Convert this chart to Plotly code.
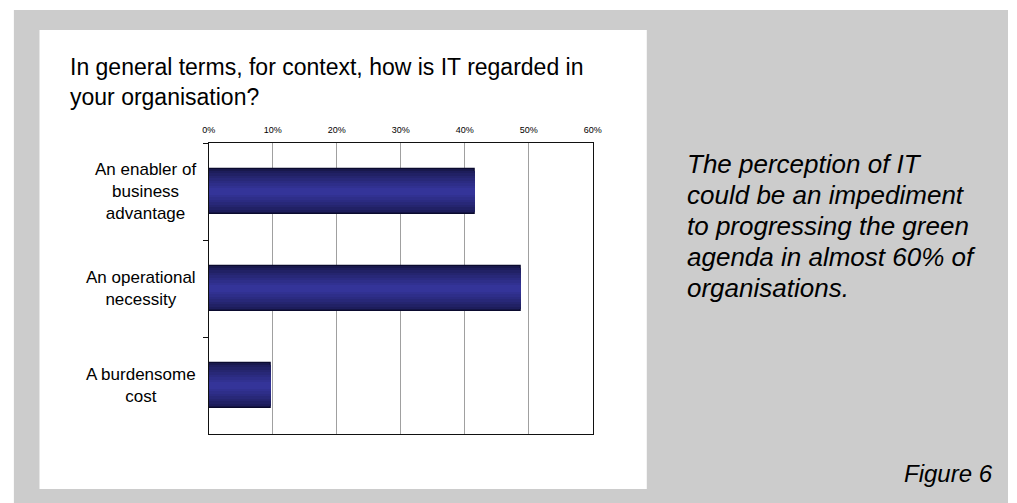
import plotly.graph_objects as go

# Survey responses: how IT is regarded in the organisation
categories = [
    "An enabler of<br>business<br>advantage",
    "An operational<br>necessity",
    "A burdensome<br>cost",
]
shares = [0.415, 0.488, 0.097]
tick_values = [0, 0.1, 0.2, 0.3, 0.4, 0.5, 0.6]
tick_labels = ["0%", "10%", "20%", "30%", "40%", "50%", "60%"]

title_text = "In general terms, for context, how is IT regarded in<br>your organisation?"
note_lines = [
    "The perception of IT",
    "could be an impediment",
    "to progressing the green",
    "agenda in almost 60% of",
    "organisations.",
]
figure_label = "Figure 6"

W, H = 1017, 503
FONT = "Arial, Liberation Sans, Helvetica, sans-serif"


def px_x(x):
    return x / W


def px_y(y):
    return 1 - y / H


def lerp_color(c1, c2, t):
    a = [int(c1[i:i + 2], 16) for i in (1, 3, 5)]
    b = [int(c2[i:i + 2], 16) for i in (1, 3, 5)]
    return "#" + "".join(f"{round(a[k] + (b[k] - a[k]) * t):02x}" for k in range(3))


fig = go.Figure()

# Bars with a vertical shading: stacked overlays that narrow towards the centre
bar_width = 0.474
layers = 9
for i in range(layers):
    t = i / (layers - 1)
    frac = 1.0 - 0.85 * t
    color = lerp_color("#18184c", "#343499", t ** 0.8)
    fig.add_trace(go.Bar(
        x=shares,
        y=categories,
        orientation="h",
        width=bar_width * frac,
        marker=dict(
            color=color,
            line=dict(color="#0a0a2e" if i == 0 else color, width=1.2 if i == 0 else 0),
        ),
        hoverinfo="skip",
        showlegend=False,
    ))

x0, x1 = 205, 595
y0, y1 = 143, 434

fig.update_layout(
    width=W,
    height=H,
    margin=dict(l=0, r=0, t=0, b=0),
    paper_bgcolor="white",
    plot_bgcolor="white",
    barmode="overlay",
    bargap=0,
    font=dict(family=FONT, color="black"),
    xaxis=dict(
        domain=[px_x(x0), px_x(x1)],
        range=[0, 0.6],
        side="top",
        tickvals=tick_values,
        ticktext=tick_labels,
        tickfont=dict(size=9, family=FONT),
        ticklabelstandoff=5,
        showgrid=True,
        gridcolor="#a0a0a0",
        gridwidth=1,
        showline=True,
        linecolor="#111111",
        linewidth=1,
        mirror=True,
        ticks="",
        zeroline=False,
        fixedrange=True,
    ),
    yaxis=dict(
        domain=[px_y(y1), px_y(y0)],
        type="category",
        categoryorder="array",
        categoryarray=categories,
        autorange="reversed",
        showticklabels=False,
        ticks="outside",
        tickson="boundaries",
        ticklen=5,
        tickcolor="#111111",
        showgrid=False,
        showline=True,
        linecolor="#111111",
        linewidth=1,
        mirror=True,
        fixedrange=True,
    ),
    shapes=[
        # grey page background
        dict(type="rect", xref="paper", yref="paper", layer="below",
             x0=px_x(7), x1=1, y0=0, y1=px_y(10),
             fillcolor="#cccccc", line=dict(width=0)),
        # white chart panel
        dict(type="rect", xref="paper", yref="paper", layer="below",
             x0=px_x(33), x1=px_x(650), y0=px_y(489), y1=px_y(30),
             fillcolor="white", line=dict(width=0)),
    ],
)

annotations = []

# Title of the chart panel
annotations.append(dict(
    text=title_text, xref="paper", yref="paper",
    x=px_x(62), y=px_y(52), xanchor="left", yanchor="top",
    align="left", showarrow=False,
    font=dict(size=23, family=FONT, color="black"),
))

# Category labels, centred lines, right-aligned block next to the axis
for cat in categories:
    annotations.append(dict(
        text=cat, xref="paper", yref="y",
        x=px_x(194), y=cat, xanchor="right", yanchor="middle",
        align="center", showarrow=False,
        font=dict(size=17, family=FONT, color="black"),
    ))

# Commentary on the right
line_top = 164
line_step = 31
for i, line in enumerate(note_lines):
    annotations.append(dict(
        text=f"<i>{line}</i>", xref="paper", yref="paper",
        x=px_x(689), y=px_y(line_top + i * line_step),
        xanchor="left", yanchor="middle", align="left", showarrow=False,
        font=dict(size=26, family=FONT, color="black"),
    ))

annotations.append(dict(
    text=f"<i>{figure_label}</i>", xref="paper", yref="paper",
    x=px_x(1004), y=px_y(473), xanchor="right", yanchor="middle",
    showarrow=False, font=dict(size=24, family=FONT, color="black"),
))

fig.update_layout(annotations=annotations)

fig.write_html("out.html")
